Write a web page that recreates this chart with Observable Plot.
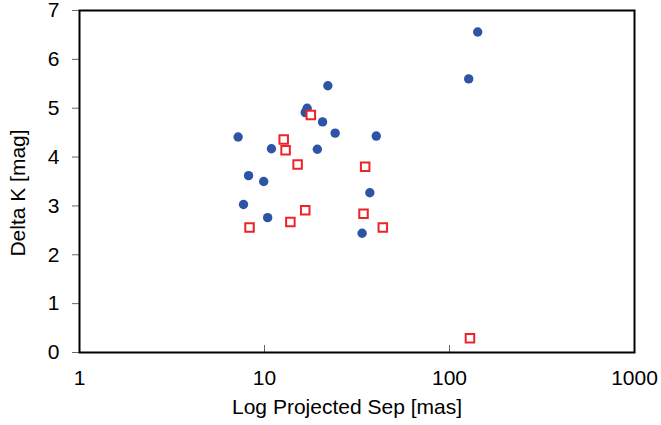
<!DOCTYPE html>
<html>
<head>
<meta charset="utf-8">
<script src="https://cdn.jsdelivr.net/npm/d3@7"></script>
<script src="https://cdn.jsdelivr.net/npm/@observablehq/plot@0.6"></script>
<style>
  html, body { margin: 0; padding: 0; background: #fff; }
  #chart { width: 661px; height: 425px; }
</style>
</head>
<body>
<div id="chart"></div>
<script>
// Blue filled circles
const blueSep = [7.2, 8.2, 7.7, 9.9, 10.9, 10.4, 17.0, 16.6, 20.6, 19.3, 22.0, 24.1, 33.7, 37.1, 40.2, 127, 142];
const blueDK  = [4.41, 3.62, 3.03, 3.50, 4.17, 2.76, 5.00, 4.91, 4.72, 4.16, 5.46, 4.49, 2.44, 3.27, 4.43, 5.60, 6.56];

// Red open squares
const redSep = [12.7, 13.0, 15.1, 17.8, 16.6, 13.8, 8.3, 35.0, 34.3, 43.6, 129];
const redDK  = [4.36, 4.14, 3.85, 4.86, 2.91, 2.67, 2.56, 3.80, 2.84, 2.56, 0.29];

const xTicks = [1, 10, 100, 1000];
const yTicks = [0, 1, 2, 3, 4, 5, 6, 7];
const xLabel = "Log Projected Sep [mas]";
const yLabel = "Delta K [mag]";

const blue = blueSep.map((x, i) => ({x, y: blueDK[i]}));
const red = redSep.map((x, i) => ({x, y: redDK[i]}));

const font = "'Liberation Sans', Arial, sans-serif";

const chart = Plot.plot({
  width: 661,
  height: 425,
  marginLeft: 79,
  marginRight: 27,
  marginTop: 10,
  marginBottom: 73,
  style: { fontFamily: font, fontSize: "21px", color: "#000", background: "#fff" },
  x: { type: "log", domain: [1, 1000] },
  y: { domain: [0, 7] },
  marks: [
    Plot.axisY({ ticks: yTicks, tickSize: 7, tickPadding: 13, stroke: "#666", tickFormat: d => String(d), label: null, fill: "#000" }),
    Plot.axisX({ ticks: xTicks, tickSize: 7, dy: -7, text: null, stroke: "#666", label: null }),
    Plot.axisX({ ticks: xTicks, tickSize: 0, tickPadding: 17.5, tickFormat: d => String(d), label: null, fill: "#000" }),
    Plot.frame({ stroke: "#000", strokeWidth: 2 }),
    Plot.dot(blue, { x: "x", y: "y", r: 4.7, fill: "#2E54A6" }),
    Plot.dot(red, { x: "x", y: "y", r: 4.8, symbol: "square", fill: "#fff", stroke: "#EE2229", strokeWidth: 2 }),
    Plot.text([xLabel], { text: d => d, frameAnchor: "bottom", lineAnchor: "top", textAnchor: "middle", dy: 46.8, dx: -10, fontSize: 21, fill: "#000" }),
    Plot.text([yLabel], { text: d => d, frameAnchor: "left", lineAnchor: "top", textAnchor: "middle", rotate: -90, dx: -69, dy: 11.5, fontSize: 21, fill: "#000" })
  ]
});
document.getElementById("chart").appendChild(chart);
</script>
</body>
</html>
